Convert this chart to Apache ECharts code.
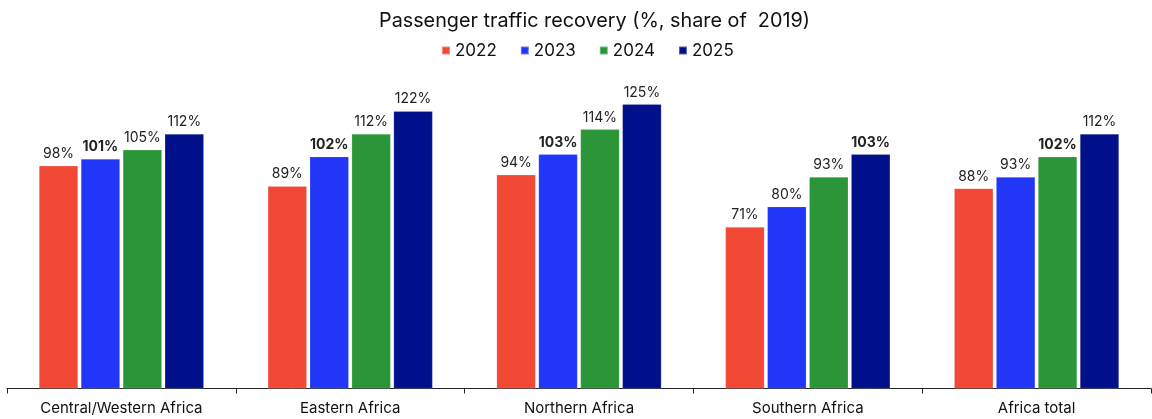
<!DOCTYPE html>
<html>
<head>
<meta charset="utf-8">
<script src="https://cdn.jsdelivr.net/npm/echarts@6/dist/echarts.min.js"></script>
<style>
html,body{margin:0;padding:0;background:#fff;}
#chart{width:1152px;height:419px;}
</style>
</head>
<body>
<div id="chart"></div>
<script>
const categories = ['Central/Western Africa', 'Eastern Africa', 'Northern Africa', 'Southern Africa', 'Africa total'];
const years = ['2022', '2023', '2024', '2025'];
const v2022 = [98, 89, 94, 71, 88];
const v2023 = [101, 102, 103, 80, 93];
const v2024 = [105, 112, 114, 93, 102];
const v2025 = [112, 122, 125, 103, 112];
const colors = ['#F24936', '#2236F7', '#2A9638', '#00108A'];

const allVals = [v2022, v2023, v2024, v2025];
// bold label: first year that reaches 100% or more in each category
const boldIdx = categories.map((c, ci) => allVals.findIndex(s => s[ci] >= 100));

const chart = echarts.init(document.getElementById('chart'));
const series = allVals.map((vals, si) => ({
  name: years[si],
  type: 'bar',
  data: vals.map((v, ci) => ({
    value: v,
    label: { fontWeight: boldIdx[ci] === si ? 'bold' : 'normal' }
  })),
  barWidth: 39,
  barGap: '7.5%',
  itemStyle: { color: colors[si], borderColor: 'rgba(255,255,255,0.35)', borderWidth: 0.5 },
  label: {
    show: true, position: 'top', distance: 5,
    formatter: p => p.value + '%',
    color: '#222', fontSize: 14, fontFamily: 'Inter'
  }
}));

chart.setOption({
  animation: false,
  textStyle: { fontFamily: 'Inter' },
  title: {
    text: 'Passenger traffic recovery (%, share of  2019)',
    left: 374, top: 6,
    textStyle: { fontSize: 19.8, fontWeight: 'normal', color: '#111', fontFamily: 'Inter' }
  },
  legend: {
    top: 37, left: 436,
    itemWidth: 8, itemHeight: 8, itemGap: 23,
    icon: 'rect',
    textStyle: { fontSize: 17, color: '#111', fontFamily: 'Inter', padding: [0, 0, 0, 0] },
    data: years
  },
  grid: { left: 7, right: 1, top: 93, bottom: 30.5, containLabel: false },
  xAxis: {
    type: 'category', data: categories,
    axisLine: { show: true, lineStyle: { color: '#222', width: 1 } },
    axisTick: { show: true, length: 5, alignWithLabel: false, lineStyle: { color: '#222' } },
    axisLabel: { fontSize: 15, color: '#111', margin: 12, fontFamily: 'Inter', interval: 0 }
  },
  yAxis: {
    type: 'value', min: 0, max: 130, show: false,
    splitLine: { show: false }
  },
  series: series
});
</script>
</body>
</html>
